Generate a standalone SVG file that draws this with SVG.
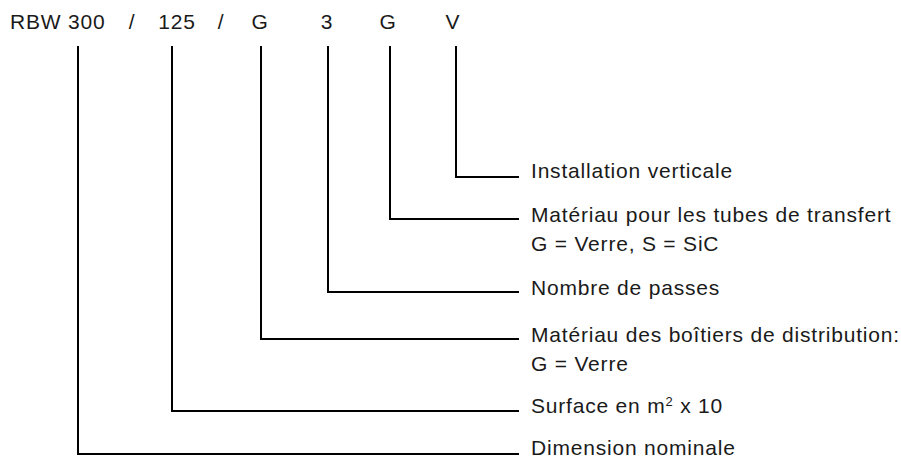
<svg xmlns="http://www.w3.org/2000/svg" width="901" height="459" viewBox="0 0 901 459">
<style>
text{font-family:"Liberation Sans",Arial,sans-serif;font-size:21px;letter-spacing:0.8px;fill:#1a1a1a}
.t{text-anchor:middle}
.c{fill:none;stroke:#000;stroke-width:2}
</style>
<rect width="901" height="459" fill="#fff"/>
<g id="code">
<text x="10" y="29">RBW 300</text>
<text class="t" x="132" y="29">/</text>
<text class="t" x="177" y="29">125</text>
<text class="t" x="221" y="29">/</text>
<text class="t" x="260" y="29">G</text>
<text class="t" x="327" y="29">3</text>
<text class="t" x="388" y="29">G</text>
<text class="t" x="453" y="29">V</text>
</g>
<g id="connectors">
<path class="c" d="M456 46V177H519"/>
<path class="c" d="M390 46V219H519"/>
<path class="c" d="M328 46V292H519"/>
<path class="c" d="M261 46V339H519"/>
<path class="c" d="M172 46V411H519"/>
<path class="c" d="M78 46V454H519"/>
</g>
<g id="n-v"><text x="531" y="178">Installation verticale</text></g>
<g id="n-g2"><text x="531" y="222">Matériau pour les tubes de transfert</text><text x="531" y="251">G = Verre, S = SiC</text></g>
<g id="n-3"><text x="531" y="295">Nombre de passes</text></g>
<g id="n-g1"><text x="531" y="342">Matériau des boîtiers de distribution:</text><text x="531" y="371">G = Verre</text></g>
<g id="n-125"><text x="531" y="413">Surface en m<tspan font-size="13" dy="-7">2</tspan><tspan dy="7"> x 10</tspan></text></g>
<g id="n-300"><text x="531" y="455">Dimension nominale</text></g>
</svg>
